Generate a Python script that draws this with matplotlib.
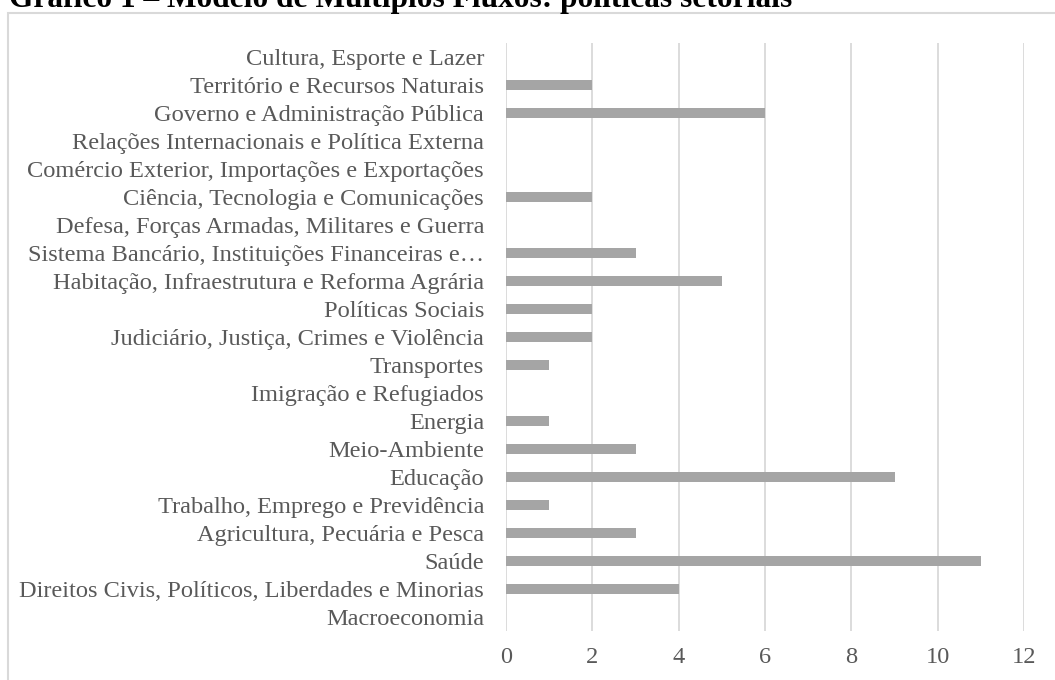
import matplotlib
matplotlib.use("Agg")
import matplotlib.pyplot as plt
from matplotlib.patches import Rectangle

categories = [
    "Macroeconomia",
    "Direitos Civis, Políticos, Liberdades e Minorias",
    "Saúde",
    "Agricultura, Pecuária e Pesca",
    "Trabalho, Emprego e Previdência",
    "Educação",
    "Meio-Ambiente",
    "Energia",
    "Imigração e Refugiados",
    "Transportes",
    "Judiciário, Justiça, Crimes e Violência",
    "Políticas Sociais",
    "Habitação, Infraestrutura e Reforma Agrária",
    "Sistema Bancário, Instituições Financeiras e…",
    "Defesa, Forças Armadas, Militares e Guerra",
    "Ciência, Tecnologia e Comunicações",
    "Comércio Exterior, Importações e Exportações",
    "Relações Internacionais e Política Externa",
    "Governo e Administração Pública",
    "Território e Recursos Naturais",
    "Cultura, Esporte e Lazer",
]
values = [0, 4, 11, 3, 1, 9, 3, 1, 0, 1, 2, 2, 5, 3, 0, 2, 0, 0, 6, 2, 0]
xticks = [0, 2, 4, 6, 8, 10, 12]

W, H = 1055, 680
plt.rcParams["font.family"] = ["Liberation Serif", "DejaVu Serif"]

fig = plt.figure(figsize=(W / 100, H / 100), dpi=100)
fig.patch.set_facecolor("white")

# outer chart frame
fig.patches.append(Rectangle((8 / W, -0.1), 1.2, 1 - 13 / H + 0.1,
                             transform=fig.transFigure, fill=False,
                             edgecolor="#D9D9D9", linewidth=1.5))

fig.text(9 / W, 1 - 7.5 / H, "Gráfico 1 – Modelo de Múltiplos Fluxos: políticas setoriais",
         fontsize=22.6, fontweight="bold", color="black", va="baseline", ha="left")

ax = fig.add_axes([506 / W, 1 - 631 / H, (1024 - 506) / W, (631 - 43) / H])
y = list(range(len(categories)))
ax.barh(y, values, height=0.36, color="#A5A5A5", zorder=3)
ax.set_ylim(-0.5, len(categories) - 0.5)
ax.set_xlim(0, 12)
ax.set_xticks(xticks)
ax.set_xticklabels([str(t) for t in xticks])
ax.set_yticks(y)
ax.set_yticklabels(categories)
ax.tick_params(axis="y", length=0, pad=15.8, labelsize=17.6, labelcolor="#595959")
ax.tick_params(axis="x", length=0, pad=11.5, labelsize=17.6, labelcolor="#595959")
ax.grid(axis="x", color="#D9D9D9", linewidth=1.3, zorder=0)
for s in ax.spines.values():
    s.set_visible(False)

fig.savefig("out.png", dpi=100)
